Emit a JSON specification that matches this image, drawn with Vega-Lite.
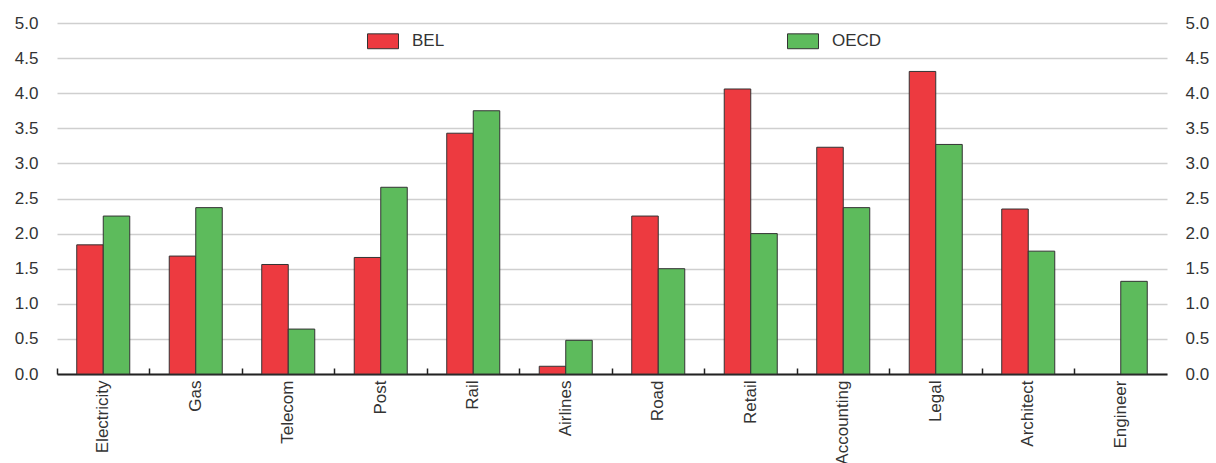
{
  "$schema": "https://vega.github.io/schema/vega-lite/v6.json",
  "width": 1110,
  "height": 351,
  "autosize": {"type": "none"},
  "padding": {"left": 57, "top": 23, "right": 49, "bottom": 89},
  "background": "white",
  "config": {
    "font": "Liberation Sans, Arial, sans-serif",
    "view": {"stroke": null},
    "axis": {"labelFont": "Liberation Sans, Arial, sans-serif", "labelFontSize": 17, "labelColor": "#333333", "title": null},
    "legend": {"labelFont": "Liberation Sans, Arial, sans-serif", "labelFontSize": 17, "labelColor": "#333333"}
  },
  "data": {
    "values": [
      {"sector": "Electricity", "series": "BEL", "value": 1.84},
      {"sector": "Electricity", "series": "OECD", "value": 2.25},
      {"sector": "Gas", "series": "BEL", "value": 1.68},
      {"sector": "Gas", "series": "OECD", "value": 2.37},
      {"sector": "Telecom", "series": "BEL", "value": 1.56},
      {"sector": "Telecom", "series": "OECD", "value": 0.64},
      {"sector": "Post", "series": "BEL", "value": 1.66},
      {"sector": "Post", "series": "OECD", "value": 2.66},
      {"sector": "Rail", "series": "BEL", "value": 3.43},
      {"sector": "Rail", "series": "OECD", "value": 3.75},
      {"sector": "Airlines", "series": "BEL", "value": 0.11},
      {"sector": "Airlines", "series": "OECD", "value": 0.48},
      {"sector": "Road", "series": "BEL", "value": 2.25},
      {"sector": "Road", "series": "OECD", "value": 1.5},
      {"sector": "Retail", "series": "BEL", "value": 4.06},
      {"sector": "Retail", "series": "OECD", "value": 2.0},
      {"sector": "Accounting", "series": "BEL", "value": 3.23},
      {"sector": "Accounting", "series": "OECD", "value": 2.37},
      {"sector": "Legal", "series": "BEL", "value": 4.31},
      {"sector": "Legal", "series": "OECD", "value": 3.27},
      {"sector": "Architect", "series": "BEL", "value": 2.35},
      {"sector": "Architect", "series": "OECD", "value": 1.75},
      {"sector": "Engineer", "series": "OECD", "value": 1.32}
    ]
  },
  "layer": [
    {
      "mark": {"type": "bar", "stroke": "#333333", "strokeWidth": 1},
      "encoding": {
        "x": {
          "field": "sector", "type": "nominal",
          "sort": ["Electricity", "Gas", "Telecom", "Post", "Rail", "Airlines", "Road", "Retail", "Accounting", "Legal", "Architect", "Engineer"],
          "scale": {"paddingInner": 0, "paddingOuter": 0},
          "axis": {"labelAngle": -90, "bandPosition": 0, "tickSize": -6, "tickColor": "#222222", "tickWidth": 1.5, "domainColor": "#222222", "domainWidth": 2, "labelPadding": 12, "labelAlign": "right", "labelBaseline": "middle", "grid": false, "labelBound": false, "labelOverlap": false}
        },
        "xOffset": {"field": "series", "type": "nominal", "scale": {"paddingInner": 0, "paddingOuter": 0.745}},
        "y": {
          "field": "value", "type": "quantitative",
          "scale": {"domain": [0, 5], "nice": false},
          "axis": {"orient": "left", "values": [0, 0.5, 1, 1.5, 2, 2.5, 3, 3.5, 4, 4.5, 5], "format": ".1f", "domain": false, "ticks": false, "labelPadding": 19, "grid": true, "gridColor": "#cfcfcf", "gridWidth": 1.5}
        },
        "color": {
          "field": "series", "type": "nominal",
          "scale": {"domain": ["BEL", "OECD"], "range": ["#ED3A40", "#5DBB5C"]},
          "legend": {"title": null, "orient": "none", "legendX": 310, "legendY": 2, "direction": "horizontal", "symbolType": "M-1,-0.48H1V0.48H-1Z", "symbolSize": 961, "symbolStrokeColor": "#333333", "symbolStrokeWidth": 1, "labelOffset": 13, "columnPadding": 340}
        }
      }
    },
    {
      "mark": {"type": "bar", "opacity": 0},
      "encoding": {
        "x": {"field": "sector", "type": "nominal", "sort": ["Electricity", "Gas", "Telecom", "Post", "Rail", "Airlines", "Road", "Retail", "Accounting", "Legal", "Architect", "Engineer"]},
        "y": {
          "field": "value", "type": "quantitative",
          "axis": {"orient": "right", "values": [0, 0.5, 1, 1.5, 2, 2.5, 3, 3.5, 4, 4.5, 5], "format": ".1f", "domain": false, "ticks": false, "labelPadding": 18, "grid": false}
        }
      }
    }
  ],
  "resolve": {"axis": {"y": "independent"}}
}
